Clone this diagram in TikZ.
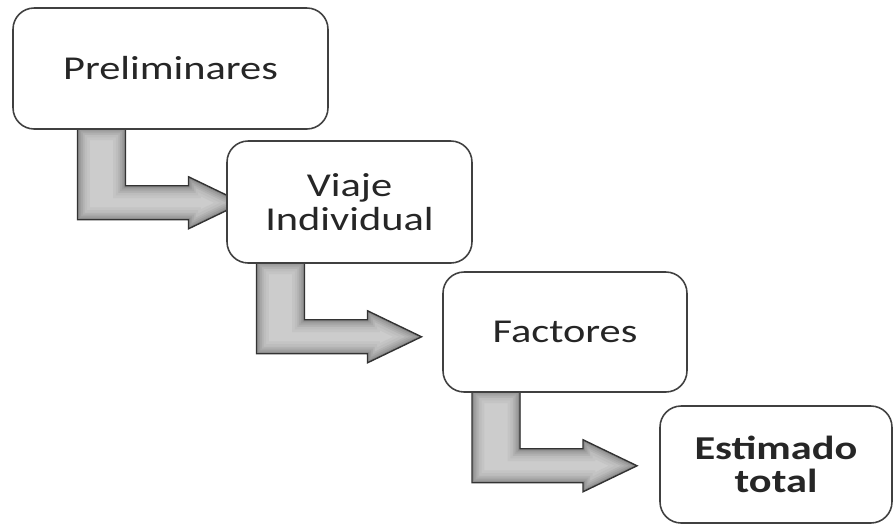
\documentclass[tikz,border=0pt]{standalone}
\usepackage{fontspec}
\newfontfamily\boxfont[FakeStretch=1.27]{Carlito}
\usetikzlibrary{backgrounds}

\tikzset{
  stage/.style={draw=black!75, line width=0.9pt, fill=white, rounded corners=12pt,
    align=center, inner sep=0pt, text=black!85,
    font=\boxfont\fontsize{19}{19}\selectfont},
  stagebold/.style={stage, font=\boxfont\bfseries\fontsize{19}{19}\selectfont},
}

% outline of the bent arrow, measured from the south anchor of a box
\newcommand{\arrowpath}{(-93,-2) -- (-45,-2) -- (-45,56) -- (18,56) -- (18,47) -- (72,73) -- (18,99) -- (18,90) -- (-93,90) -- cycle}

\newcommand{\bentarrow}[1]{%
  \begin{scope}[shift={(#1.south)}]
    \fill[black!20] \arrowpath;
    \begin{scope}
      \clip \arrowpath;
      \foreach \w/\c in {14/23, 11/26, 8/30, 6/34, 4/39, 2/45}
        \draw[black!\c, line width=\w pt, line join=miter] \arrowpath;
    \end{scope}
    \draw[black!80, line width=0.8pt, line join=miter] \arrowpath;
  \end{scope}}

\begin{document}
\begin{tikzpicture}[x=0.02cm, y=-0.02cm]
  \useasboundingbox (0,0) rectangle (894,525);

  % Drawing the four stages
  \node[stage, minimum width=6.3cm, minimum height=2.42cm] (prelim) at (170.5,68.5) {Preliminares};
  \node[stage, minimum width=4.9cm, minimum height=2.44cm] (viaje) at (349.5,202) {Viaje\\Individual};
  \node[stage, minimum width=4.88cm, minimum height=2.4cm] (factores) at (565,332) {Factores};
  \node[stagebold, minimum width=4.64cm, minimum height=2.34cm] (total) at (776,464.5) {Estimado\\total};

  % Drawing the bent arrows behind the boxes
  \begin{pgfonlayer}{background}
    \bentarrow{prelim}
    \bentarrow{viaje}
    \bentarrow{factores}
  \end{pgfonlayer}
\end{tikzpicture}
\end{document}
